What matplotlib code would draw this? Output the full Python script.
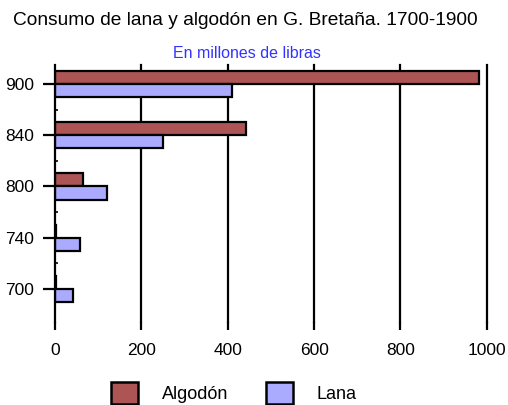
import matplotlib
matplotlib.use('Agg')
import matplotlib.pyplot as plt
import numpy as np
from matplotlib.patches import Patch

# data
years   = ['700', '740', '800', '840', '900']
algodon = [3, 3, 64, 443, 981]
lana    = [41, 59, 120, 251, 411]
xticks  = [0, 200, 400, 600, 800, 1000]

plt.rcParams.update({'font.family': 'Liberation Sans'})

fig = plt.figure(figsize=(5.08, 4.05), dpi=100)
ax = fig.add_axes([0.1083, 0.205, 0.8500, 0.6345])

pos = np.arange(len(years))
h = 0.255
ax.barh(pos + h/2, algodon, height=h, color='#AD5555', edgecolor='black',
        linewidth=1.6, zorder=3)
ax.barh(pos - h/2, lana, height=h, color='#AAAAFF', edgecolor='black',
        linewidth=1.6, zorder=3)

ax.set_xlim(0, 1000)
ax.set_ylim(-0.644, 4.37)
ax.set_yticks(pos)
ax.set_yticklabels(years, fontsize=12.5)
ax.set_yticks(pos[:-1] + 0.5, minor=True)
ax.set_xticks(xticks)
ax.set_xticklabels([str(v) for v in xticks], fontsize=12.5)

for v in xticks[1:]:
    ax.axvline(v, color='black', linewidth=1.6, zorder=1, clip_on=False)

for s in ['top', 'right', 'bottom']:
    ax.spines[s].set_visible(False)
ax.spines['left'].set_linewidth(1.6)
ax.spines['left'].set_zorder(4)

ax.tick_params(axis='y', which='major', length=9, width=1.6, pad=6)
ax.tick_params(axis='y', which='minor', direction='in', length=2, width=1.2)
ax.tick_params(axis='x', length=6, width=1.6, pad=9)

fig.text(0.482, 0.950, 'Consumo de lana y algodón en G. Bretaña. 1700-1900',
         ha='center', va='center', fontsize=13.8)
fig.text(0.487, 0.868, 'En millones de libras', ha='center', va='center',
         fontsize=11.5, color='#3333FF')

handles = [Patch(facecolor='#AD5555', edgecolor='black', linewidth=1.8, label='Algodón'),
           Patch(facecolor='#AAAAFF', edgecolor='black', linewidth=1.8, label='Lana')]
fig.legend(handles=handles, loc='center', bbox_to_anchor=(0.46, 0.03), ncol=2,
           frameon=False, fontsize=13, handlelength=1.5, handleheight=1.5,
           handletextpad=1.3, columnspacing=2.1)

fig.savefig('out.png', dpi=100)
